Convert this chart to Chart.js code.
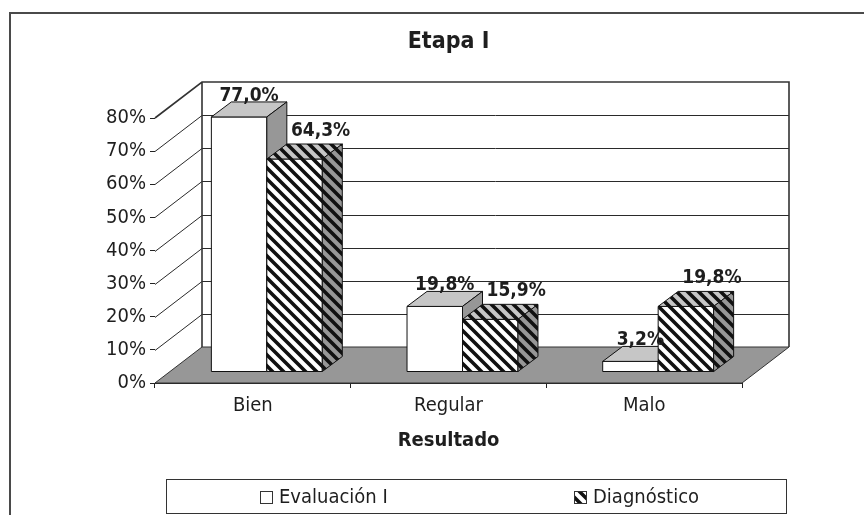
<!DOCTYPE html>
<html>
<head>
<meta charset="utf-8">
<title>Etapa I</title>
<style>
  body { margin: 0; background: #fff; }
</style>
</head>
<body>
<canvas id="myChart" width="864" height="515"></canvas>

<script src="https://cdn.jsdelivr.net/npm/chart.js"></script>

<script>
const categories = ['Bien', 'Regular', 'Malo'];
const evaluacion = [77.0, 19.8, 3.2];
const diagnostico = [64.3, 15.9, 19.8];
const seriesNames = ['Evaluación I', 'Diagnóstico'];
const yMax = 80;
const yStep = 10;

const FONT = '"DejaVu Sans Condensed", "DejaVu Sans", sans-serif';
const INK = '#1e1e1e';
const WALL_DEPTH = [47, -36];   // depth of walls and floor
const BAR_SHIFT = [14, -11];    // bars stand a bit back from the front edge
const BAR_DEPTH = [20, -15];
const LABEL_NUDGE = [[0, -6], [16, -13]];

function poly(ctx, pts, fill, stroke, lw) {
  ctx.beginPath();
  pts.forEach((p, i) => i ? ctx.lineTo(p[0], p[1]) : ctx.moveTo(p[0], p[1]));
  ctx.closePath();
  if (fill) { ctx.fillStyle = fill; ctx.fill(); }
  if (stroke) { ctx.strokeStyle = stroke; ctx.lineWidth = lw || 1; ctx.stroke(); }
}

// diagonal hatch like the excel pattern fill
function stripes(ctx, bg) {
  const n = 11;
  const c = document.createElement('canvas');
  c.width = n; c.height = n;
  const g = c.getContext('2d');
  g.fillStyle = bg;
  g.fillRect(0, 0, n, n);
  g.strokeStyle = '#111';
  g.lineWidth = 3.6;
  g.beginPath();
  g.moveTo(-2, -2); g.lineTo(n + 2, n + 2);
  g.moveTo(n - 2, -2); g.lineTo(n + 2, 2);
  g.moveTo(-2, n - 2); g.lineTo(2, n + 2);
  g.stroke();
  return ctx.createPattern(c, 'repeat');
}

const scene = {
  id: 'scene',
  afterLayout(chart) {
    // centre the title over the plot, like the original
    chart.titleBlock.left = chart.chartArea.left;
    chart.titleBlock.right = chart.chartArea.right;
  },
  beforeDraw(chart) {
    const ctx = chart.ctx;
    ctx.save();
    ctx.fillStyle = '#fff';
    ctx.fillRect(0, 0, chart.width, chart.height);
    ctx.strokeStyle = '#4a4a4a';
    ctx.lineWidth = 2;
    ctx.strokeRect(10, 13, chart.width + 20, chart.height + 20);
    ctx.restore();
  },
  beforeDatasetsDraw(chart) {
    const {ctx, scales: {x, y}} = chart;
    const [dx, dy] = WALL_DEPTH;
    const l = x.left, r = x.right;
    const b = y.getPixelForValue(0), t = y.getPixelForValue(yMax);
    ctx.save();
    poly(ctx, [[l, t], [l + dx, t + dy], [l + dx, b + dy], [l, b]], '#fff');
    poly(ctx, [[l + dx, t + dy], [r + dx, t + dy], [r + dx, b + dy], [l + dx, b + dy]], '#fff');
    ctx.strokeStyle = '#2a2a2a';
    ctx.lineWidth = 1;
    for (let v = yStep; v < yMax; v += yStep) {
      const py = Math.round(y.getPixelForValue(v)) + 0.5;
      ctx.beginPath();
      ctx.moveTo(l, py);
      ctx.lineTo(l + dx, py + dy);
      ctx.lineTo(r + dx, py + dy);
      ctx.stroke();
    }
    poly(ctx, [[l, b], [r, b], [r + dx, b + dy], [l + dx, b + dy]], '#979797', '#333', 1);
    ctx.strokeStyle = '#333';
    ctx.lineWidth = 1.6;
    ctx.beginPath();
    ctx.moveTo(l, t);
    ctx.lineTo(l + dx, t + dy);
    ctx.lineTo(r + dx, t + dy);
    ctx.lineTo(r + dx, b + dy);
    ctx.moveTo(l + dx, t + dy);
    ctx.lineTo(l + dx, b + dy);
    ctx.stroke();
    ctx.restore();
  },
  afterDatasetsDraw(chart) {
    const ctx = chart.ctx;
    const [sx, sy] = BAR_SHIFT, [bx, by] = BAR_DEPTH;
    const looks = [
      {front: '#fff', top: '#c6c6c6', side: '#979797'},
      {front: stripes(ctx, '#fff'), top: stripes(ctx, '#c6c6c6'), side: stripes(ctx, '#979797')}
    ];
    const tops = [];
    ctx.save();
    categories.forEach((c, i) => {
      chart.data.datasets.forEach((ds, d) => {
        const el = chart.getDatasetMeta(d).data[i];
        const {x, y, base, width} = el.getProps(['x', 'y', 'base', 'width'], true);
        const xl = x - width / 2 + sx, xr = x + width / 2 + sx;
        const yt = y + sy, yb = base + sy;
        const lk = looks[d];
        poly(ctx, [[xl, yb], [xl, yt], [xr, yt], [xr, yb]], lk.front, '#111', 1);
        poly(ctx, [[xl, yt], [xl + bx, yt + by], [xr + bx, yt + by], [xr, yt]], lk.top, '#111', 1);
        poly(ctx, [[xr, yt], [xr + bx, yt + by], [xr + bx, yb + by], [xr, yb]], lk.side, '#111', 1);
        tops.push({
          text: ds.data[i].toFixed(1).replace('.', ',') + '%',
          x: (xl + xr) / 2 + bx / 2 + LABEL_NUDGE[d][0],
          y: yt + by + LABEL_NUDGE[d][1]
        });
      });
    });
    ctx.font = 'bold 19px ' + FONT;
    ctx.fillStyle = INK;
    ctx.textAlign = 'center';
    ctx.textBaseline = 'middle';
    tops.forEach(p => ctx.fillText(p.text, p.x, p.y));
    ctx.restore();
  },
  afterDraw(chart) {
    const ctx = chart.ctx;
    ctx.save();
    ctx.strokeStyle = '#333';
    ctx.lineWidth = 1;
    ctx.fillStyle = '#fff';
    ctx.fillRect(166, 479, 621, 35);
    ctx.strokeRect(166.5, 479.5, 620, 34);
    const items = [260, 574];
    const fills = ['#fff', stripes(ctx, '#fff')];
    ctx.font = '20px ' + FONT;
    ctx.textAlign = 'left';
    ctx.textBaseline = 'middle';
    chart.data.datasets.forEach((ds, d) => {
      const ix = items[d];
      ctx.fillStyle = fills[d];
      ctx.fillRect(ix, 491.5, 12, 12);
      ctx.strokeRect(ix + 0.5, 491.5, 12, 12);
      ctx.fillStyle = INK;
      ctx.fillText(ds.label, ix + 19, 498);
    });
    ctx.restore();
  }
};

Chart.defaults.font.family = FONT;
Chart.defaults.color = INK;

new Chart(document.getElementById('myChart'), {
  type: 'bar',
  data: {
    labels: categories,
    datasets: [
      {label: seriesNames[0], data: evaluacion},
      {label: seriesNames[1], data: diagnostico}
    ].map(d => Object.assign(d, {
      backgroundColor: 'rgba(0,0,0,0)',
      borderWidth: 0,
      barPercentage: 1,
      categoryPercentage: 0.567
    }))
  },
  options: {
    responsive: false,
    animation: false,
    layout: {padding: {left: 0, right: 122, top: 0, bottom: 0}},
    plugins: {
      legend: {display: false},
      tooltip: {enabled: false},
      title: {
        display: true,
        text: 'Etapa I',
        color: INK,
        font: {size: 23, weight: 'bold'},
        padding: {top: 28, bottom: 62.4}
      }
    },
    scales: {
      x: {
        z: 1,
        grid: {drawOnChartArea: false, tickLength: 5, color: '#222'},
        border: {display: true, color: '#222'},
        ticks: {padding: 6, font: {size: 20}, color: INK},
        title: {
          display: true,
          text: 'Resultado',
          color: INK,
          font: {size: 20, weight: 'bold'},
          padding: {top: 0, bottom: 62}
        },
        afterFit(s) { s.height = 132; }
      },
      y: {
        z: 1,
        min: 0,
        max: yMax,
        grid: {drawOnChartArea: false, tickLength: 5, color: '#222'},
        border: {display: true, color: '#222'},
        ticks: {
          stepSize: yStep,
          padding: 4,
          font: {size: 20},
          color: INK,
          callback: v => v + '%'
        },
        afterFit(s) { s.width = 155; }
      }
    }
  },
  plugins: [scene]
});
</script>
</body>
</html>
